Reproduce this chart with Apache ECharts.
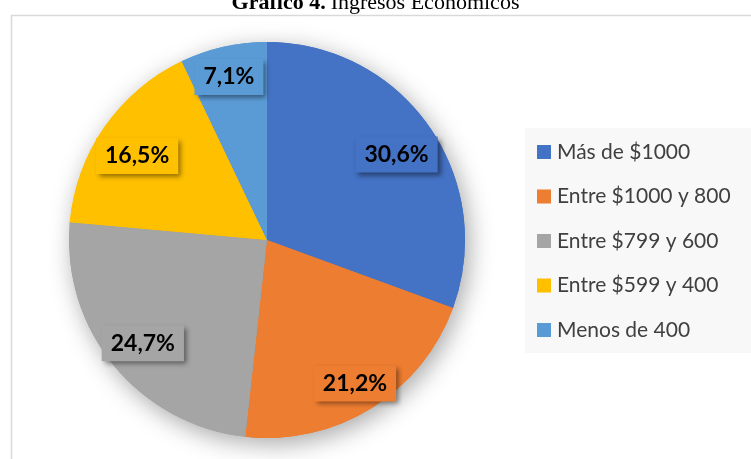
<!DOCTYPE html>
<html>
<head>
<meta charset="utf-8">
<script src="https://cdn.jsdelivr.net/npm/echarts@6/dist/echarts.min.js"></script>
<style>
html,body{margin:0;padding:0;background:#fff;}
#main{width:751px;height:459px;}
</style>
</head>
<body>
<div id="main"></div>
<script>
var categories = ['Más de $1000', 'Entre $1000 y 800', 'Entre $799 y 600', 'Entre $599 y 400', 'Menos de 400'];
var values = [30.6, 21.2, 24.7, 16.5, 7.1];
var colors = ['#4472C4', '#ED7D31', '#A5A5A5', '#FFC000', '#5B9BD5'];
// small nudges of the data labels, as placed in the original
var labelOffsets = [[-4, 8], [2, 5], [2, 0], [4, 9], [-2, -4]];

var pieData = categories.map(function (name, i) {
    return { name: name, value: values[i], itemStyle: { color: colors[i] } };
});

var myChart = echarts.init(document.getElementById('main'));
var option = {
    animation: false,
    title: {
        text: '{b|Gráfico 4.} {n|Ingresos Económicos}',
        left: 'center',
        top: -13,
        textStyle: {
            rich: {
                b: { fontFamily: 'Liberation Serif', fontSize: 22, fontWeight: 'bold', color: '#000' },
                n: { fontFamily: 'Liberation Serif', fontSize: 22, fontWeight: 'normal', color: '#000' }
            }
        }
    },
    graphic: [{
        type: 'rect',
        left: 9,
        top: 13,
        shape: { width: 800, height: 500 },
        style: { fill: 'none', stroke: '#D9D9D9', lineWidth: 1.5 },
        silent: true
    }],
    legend: {
        orient: 'vertical',
        left: 525,
        top: 128,
        padding: [13, 40, 12, 12],
        backgroundColor: '#F8F8F8',
        icon: 'rect',
        itemWidth: 14,
        itemHeight: 14,
        itemGap: 22.5,
        textStyle: { fontFamily: 'Lato', fontSize: 21, lineHeight: 22, color: '#404040', padding: [0, 0, 0, 1] },
        data: categories
    },
    series: [
        {   // pie with shadow behind
            type: 'pie',
            center: [267, 240],
            radius: [0, 198],
            startAngle: 90,
            silent: true,
            label: { show: false },
            labelLine: { show: false },
            itemStyle: { shadowBlur: 25, shadowColor: 'rgba(0,0,0,0.35)', shadowOffsetX: 4, shadowOffsetY: 6 },
            data: pieData
        },
        {
            type: 'pie',
            center: [267, 240],
            radius: [0, 198],
            startAngle: 90,
            silent: true,
            label: { show: false },
            labelLine: { show: false },
            data: pieData
        },
        {   // label ring
            type: 'pie',
            center: [267, 240],
            radius: [122, 198],
            startAngle: 90,
            silent: true,
            legendHoverLink: false,
            itemStyle: { color: 'transparent' },
            emphasis: { disabled: true },
            labelLine: { show: false },
            label: {
                show: true,
                position: 'inside',
                fontFamily: 'Lato',
                fontSize: 23,
                fontWeight: 'bold',
                color: '#000',
                padding: [7, 9, 6, 9],
                shadowColor: 'rgba(0,0,0,0.45)',
                shadowBlur: 5,
                shadowOffsetX: 3,
                shadowOffsetY: 3,
                formatter: function (p) {
                    return p.value.toFixed(1).replace('.', ',') + '%';
                }
            },
            data: categories.map(function (name, i) {
                return { name: name, value: values[i], label: { backgroundColor: colors[i], offset: labelOffsets[i] } };
            })
        }
    ]
};
myChart.setOption(option);
</script>
</body>
</html>
